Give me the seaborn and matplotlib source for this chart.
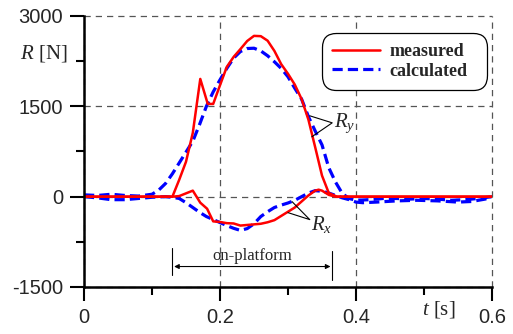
import numpy as np
import pandas as pd
import matplotlib
matplotlib.use("Agg")
import matplotlib.pyplot as plt
import seaborn as sns
from matplotlib.lines import Line2D

# ---- data ----
t_meas_y = [0, 0.13, 0.14, 0.15, 0.16, 0.171, 0.182, 0.19, 0.20, 0.21, 0.22, 0.23, 0.24,
            0.25, 0.26, 0.27, 0.28, 0.29, 0.30, 0.31, 0.32, 0.33, 0.34, 0.35, 0.36, 0.372, 0.38, 0.6]
R_meas_y = [0, 0, 280, 580, 1060, 1955, 1540, 1540, 1850, 2155, 2320, 2450, 2585,
            2670, 2665, 2590, 2420, 2200, 2040, 1860, 1620, 1280, 820, 350, 60, 0, 0, 0]

t_calc_y = [0, 0.02, 0.04, 0.06, 0.08, 0.10, 0.11, 0.12, 0.13, 0.14, 0.15, 0.16, 0.17, 0.18,
            0.19, 0.20, 0.21, 0.22, 0.23, 0.24, 0.25, 0.26, 0.27, 0.28, 0.29, 0.30, 0.31, 0.32,
            0.33, 0.34, 0.35, 0.36, 0.37, 0.38, 0.39, 0.40, 0.42, 0.44, 0.46, 0.48, 0.50, 0.52,
            0.54, 0.56, 0.58, 0.60]
R_calc_y = [30, 20, 40, 20, 10, 40, 110, 220, 380, 560, 740, 920, 1200, 1500,
            1740, 1940, 2130, 2300, 2410, 2460, 2465, 2420, 2340, 2240, 2130, 1990, 1800, 1620,
            1330, 1090, 860, 480, 240, 50, -30, -60, -50, -30, -30, -40, -30, -40,
            -60, -50, -30, 0]

t_meas_x = [0, 0.13, 0.14, 0.16, 0.171, 0.181, 0.19, 0.20, 0.21, 0.22, 0.23, 0.24, 0.25, 0.26,
            0.27, 0.28, 0.29, 0.30, 0.31, 0.32, 0.33, 0.34, 0.345, 0.35, 0.36, 0.37, 0.6]
R_meas_x = [0, 0, 10, 100, -100, -200, -410, -420, -440, -445, -480, -470, -460, -450,
            -425, -390, -320, -250, -180, -80, 20, 100, 116, 100, 30, 0, 0]

t_calc_x = [0, 0.02, 0.04, 0.06, 0.08, 0.10, 0.12, 0.13, 0.14, 0.15, 0.16, 0.17, 0.18, 0.19,
            0.20, 0.21, 0.22, 0.23, 0.24, 0.25, 0.26, 0.27, 0.28, 0.29, 0.30, 0.31, 0.32, 0.33,
            0.34, 0.35, 0.36, 0.37, 0.38, 0.39, 0.40, 0.41, 0.43, 0.46, 0.49, 0.52, 0.55, 0.57,
            0.59, 0.60]
R_calc_x = [0, -20, -50, -50, -30, -10, 0, -10, -30, -100, -180, -260, -330, -380,
            -430, -480, -525, -560, -530, -450, -330, -250, -180, -140, -105, -60, 0, 60,
            100, 90, 60, 20, -20, -50, -90, -100, -90, -70, -60, -70, -90, -80,
            -40, 0]

x_ticks = [0, 0.2, 0.4, 0.6]
x_tick_labels = ["0", "0.2", "0.4", "0.6"]
y_ticks = [-1500, 0, 1500, 3000]
y_tick_labels = ["-1500", "0", "1500", "3000"]
legend_labels = ["measured", "calculated"]

# ---- figure ----
sns.set_style("white")
plt.rcParams['font.family'] = ['Liberation Sans', 'DejaVu Sans']
plt.rcParams['mathtext.fontset'] = 'custom'
plt.rcParams['mathtext.it'] = 'Liberation Serif:italic'
plt.rcParams['mathtext.rm'] = 'Liberation Serif'

fig = plt.figure(figsize=(5.13, 3.34), dpi=100)
ax = fig.add_axes([84/513, 1-287/334, (492-84)/513, (287-16)/334])

red = "#ff0000"
blue = "#0000ff"
lw_r = 1.8
lw_b = 2.3
dash = (3.2, 1.6)

df_my = pd.DataFrame({"t": t_meas_y, "R": R_meas_y})
df_mx = pd.DataFrame({"t": t_meas_x, "R": R_meas_x})
df_cy = pd.DataFrame({"t": t_calc_y, "R": R_calc_y})
df_cx = pd.DataFrame({"t": t_calc_x, "R": R_calc_x})

sns.lineplot(data=df_cy, x="t", y="R", ax=ax, color=blue, lw=lw_b, estimator=None,
             sort=False, zorder=3).lines[-1].set_dashes(dash)
sns.lineplot(data=df_cx, x="t", y="R", ax=ax, color=blue, lw=lw_b, estimator=None,
             sort=False, zorder=3).lines[-1].set_dashes(dash)
sns.lineplot(data=df_my, x="t", y="R", ax=ax, color=red, lw=lw_r, estimator=None,
             sort=False, zorder=4)
sns.lineplot(data=df_mx, x="t", y="R", ax=ax, color=red, lw=lw_r, estimator=None,
             sort=False, zorder=4)

ax.set_xlim(0, 0.6)
ax.set_ylim(-1500, 3000)
ax.set_xlabel("")
ax.set_ylabel("")

ax.set_xticks(x_ticks)
ax.set_xticklabels(x_tick_labels)
ax.set_xticks([0.1, 0.3, 0.5], minor=True)
ax.set_yticks(y_ticks)
ax.set_yticklabels(y_tick_labels)
ax.set_yticks([-750, 750, 2250], minor=True)

ax.tick_params(axis='both', which='both', bottom=True, left=True, top=False, right=False)
ax.tick_params(axis='both', which='major', direction='out', length=10, width=1.5,
               labelsize=14.5, color='black')
ax.tick_params(axis='both', which='minor', direction='out', length=5.5, width=1.5,
               color='black')
ax.tick_params(axis='y', which='major', pad=5)
ax.tick_params(axis='x', which='major', pad=5)

for s in ['top', 'right']:
    ax.spines[s].set_visible(False)
for s in ['left', 'bottom']:
    ax.spines[s].set_linewidth(1.8)
    ax.spines[s].set_color('black')
    ax.spines[s].set_zorder(5)

ax.grid(True, which='major', linestyle=(0, (5, 4)), color='#555555', lw=0.9, zorder=1)
for gl in ax.get_xgridlines() + ax.get_ygridlines():
    gl.set_clip_on(False)

# legend
h1 = Line2D([], [], color=red, lw=lw_r)
h2 = Line2D([], [], color=blue, lw=lw_b, dashes=dash)
lx0 = (322 - 84) / 408
lw_ = (487 - 322) / 408
ltop = (287 - 33) / 271
lh = (88 - 33) / 271
leg = ax.legend([h1, h2], legend_labels, loc='upper left', mode='expand',
                bbox_to_anchor=(lx0, ltop - lh, lw_, lh), borderaxespad=0,
                frameon=True, fancybox=True,
                prop={'family': 'Liberation Serif', 'weight': 'bold', 'size': 13},
                handlelength=2.65, borderpad=0.55, labelspacing=0.15, handletextpad=0.55)
leg.get_frame().set_edgecolor('black')
leg.get_frame().set_linewidth(0.9)
leg.get_frame().set_alpha(1)
leg.get_frame().set_boxstyle('round,pad=0,rounding_size=0.8')
leg.set_zorder(6)

serif = 'Liberation Serif'
# axis labels
ax.text(-0.094, 2370, r"$R$ [N]", fontsize=15, family=serif, ha='left', va='center',
        clip_on=False)
ax.text(0.497, -1880, r"$t$ [s]", fontsize=15, family=serif, ha='left', va='center',
        clip_on=False)

# Ry annotation
ax.plot([0.332, 0.365, 0.335], [1343, 1226, 994], color='black', lw=0.8, zorder=6)
ax.text(0.367, 1226, r"$R_y$", fontsize=15, family=serif, ha='left', va='center')
# Rx annotation
ax.plot([0.306, 0.332, 0.300], [-83, -381, -265], color='black', lw=0.8, zorder=6)
ax.text(0.334, -470, r"$R_x$", fontsize=15, family=serif, ha='left', va='center')

# on-platform
ax.plot([0.13, 0.13], [-860, -1300], color='black', lw=0.8)
ax.plot([0.365, 0.365], [-910, -1380], color='black', lw=0.8)
ax.annotate('', xy=(0.1325, -1160), xytext=(0.3625, -1160),
            arrowprops=dict(arrowstyle='<|-|>', color='black', lw=0.8,
                            mutation_scale=7, shrinkA=0, shrinkB=0))
ax.text(0.247, -990, "on-platform", fontsize=12, family=serif, ha='center', va='center')

fig.savefig("out.png", dpi=100)
